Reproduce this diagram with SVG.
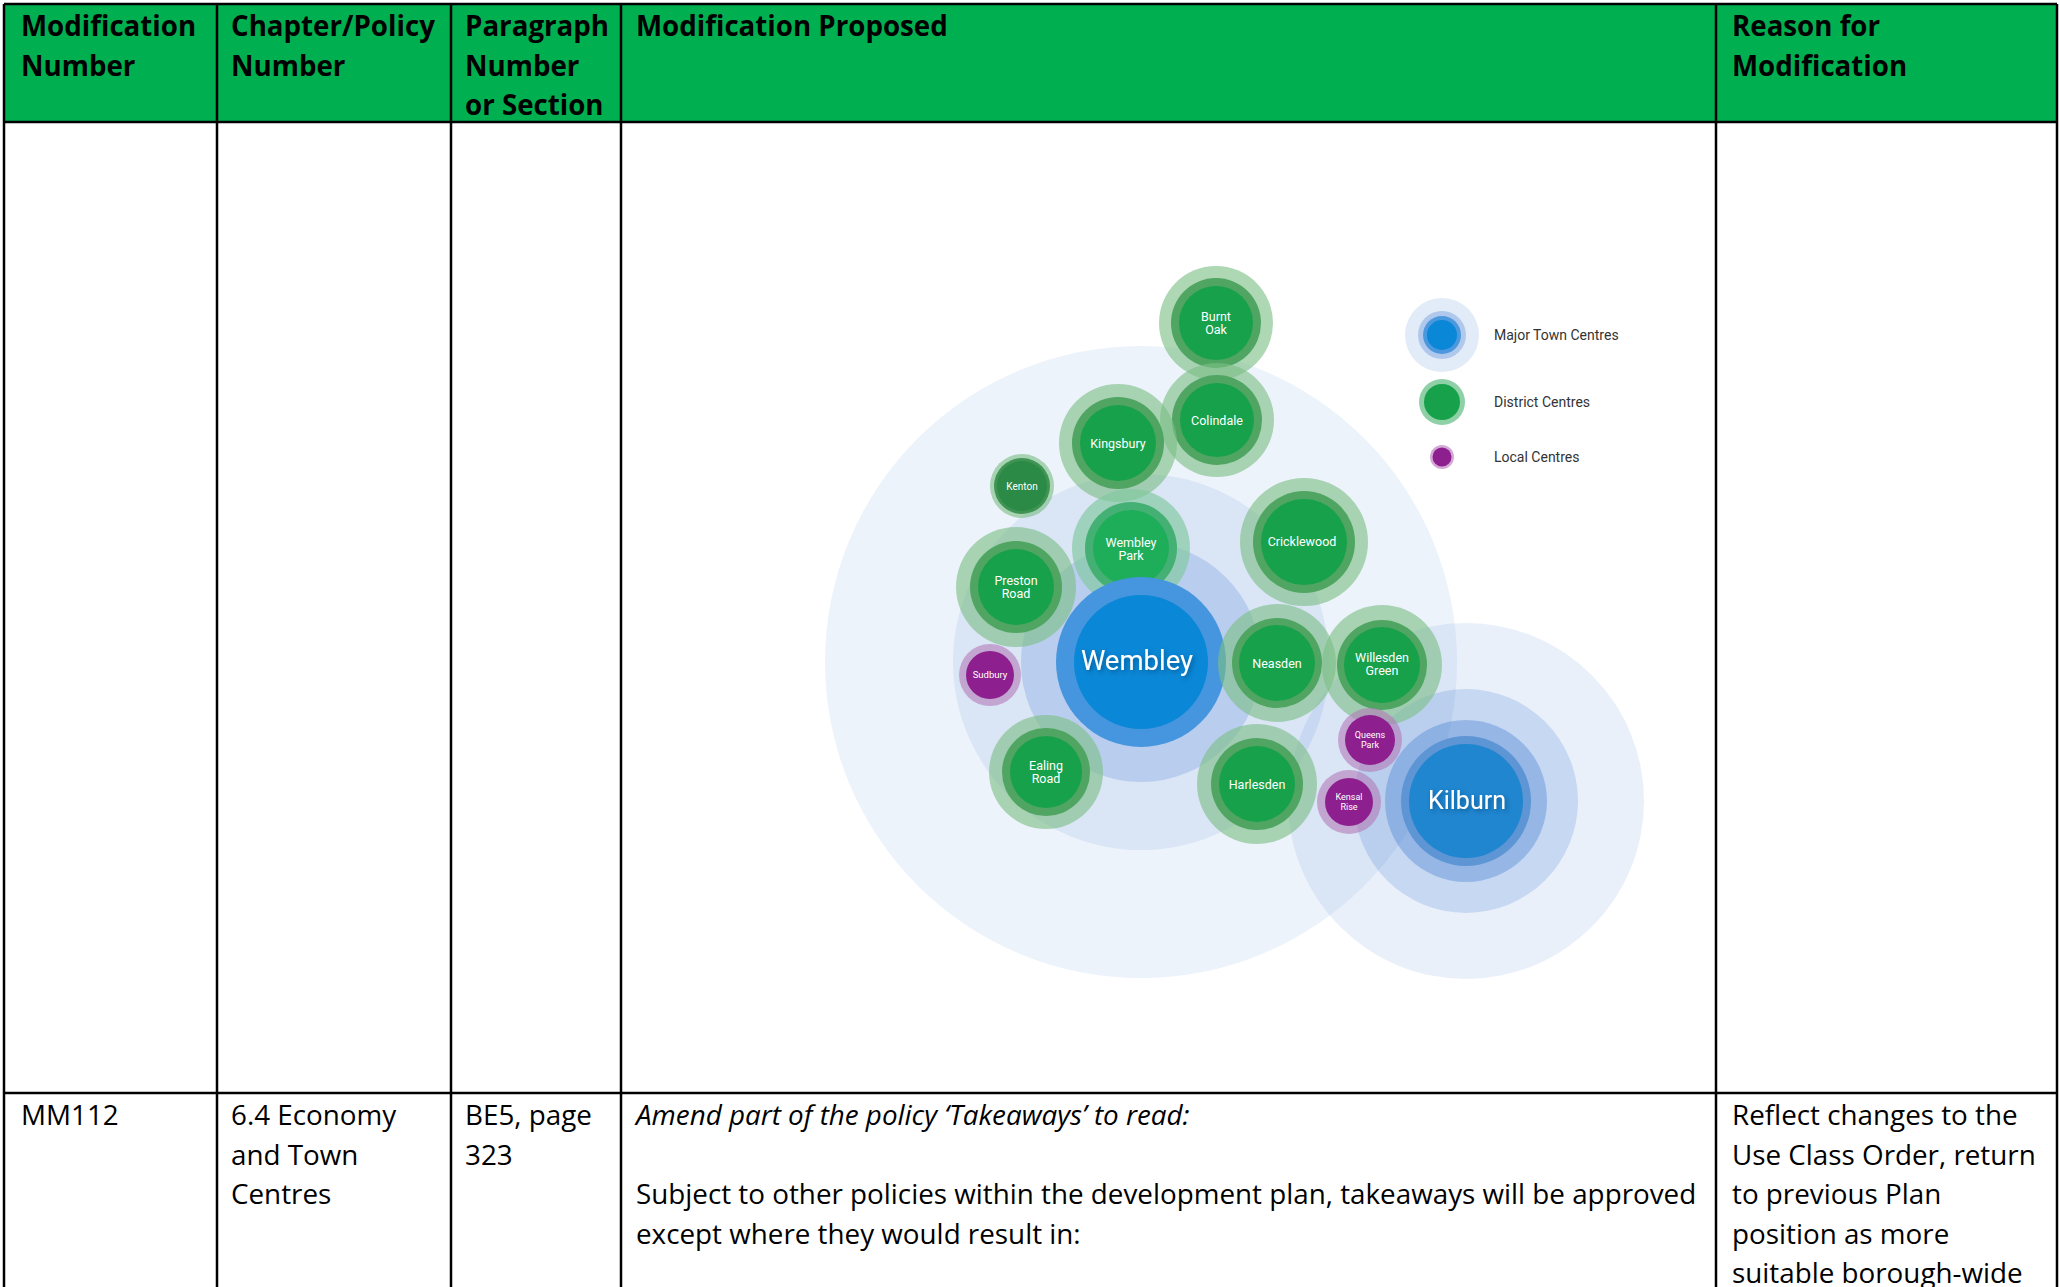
<svg xmlns="http://www.w3.org/2000/svg" width="2060" height="1287" viewBox="0 0 2060 1287">
<defs>
<style>
.hd{font-family:"Open Sans","Noto Sans",sans-serif;font-weight:bold;font-size:27.7px;fill:#000}
.bd{font-family:"Open Sans","Noto Sans",sans-serif;font-size:27.8px;fill:#000}
.it{font-style:italic}
.ln{stroke:#000;stroke-width:2.5;fill:none}
.lab{font-family:Roboto,"Open Sans",sans-serif;fill:#fff;text-anchor:middle}
.leg{font-family:Roboto,"Open Sans",sans-serif;font-size:14px;fill:#333}
.bl{fill:#3c78d2}
.halo{fill:#7dbf86;opacity:0.62}
.ring{fill:#4fa561}
.core{fill:#17a14b}
.phalo{fill:#b27ab8;opacity:0.6}
.pcore{fill:#8e1f8e}
</style>
<filter id="sh" x="-20%" y="-20%" width="140%" height="140%">
<feDropShadow dx="2" dy="2" stdDeviation="2" flood-color="#003060" flood-opacity="0.5"/>
</filter>
</defs>
<rect width="2060" height="1287" fill="#fff"/>
<rect x="4" y="4" width="2053" height="118" fill="#00b050"/>

<g id="table-lines">
<line class="ln" x1="4" y1="4" x2="2057" y2="4"/>
<line class="ln" x1="4" y1="122" x2="2057" y2="122"/>
<line class="ln" x1="4" y1="1093" x2="2057" y2="1093"/>
<line class="ln" x1="4" y1="4" x2="4" y2="1287"/>
<line class="ln" x1="217" y1="4" x2="217" y2="1287"/>
<line class="ln" x1="451" y1="4" x2="451" y2="1287"/>
<line class="ln" x1="621" y1="4" x2="621" y2="1287"/>
<line class="ln" x1="1716" y1="4" x2="1716" y2="1287"/>
<line class="ln" x1="2057" y1="4" x2="2057" y2="1287"/>
</g>

<g id="header">
<text class="hd" x="21" y="36">Modification</text>
<text class="hd" x="21" y="75.5">Number</text>
<text class="hd" x="231" y="36">Chapter/Policy</text>
<text class="hd" x="231" y="75.5">Number</text>
<text class="hd" x="465" y="36">Paragraph</text>
<text class="hd" x="465" y="75.5">Number</text>
<text class="hd" x="465" y="115">or Section</text>
<text class="hd" x="636" y="36">Modification Proposed</text>
<text class="hd" x="1732" y="36">Reason for</text>
<text class="hd" x="1732" y="75.5">Modification</text>
</g>

<g id="row-mm112">
<text class="bd" x="21" y="1125">MM112</text>
<text class="bd" x="231" y="1125">6.4 Economy</text>
<text class="bd" x="231" y="1164.5">and Town</text>
<text class="bd" x="231" y="1204">Centres</text>
<text class="bd" x="465" y="1125">BE5, page</text>
<text class="bd" x="465" y="1164.5">323</text>
<text class="bd it" x="636" y="1125">Amend part of the policy ‘Takeaways’ to read:</text>
<text class="bd" x="636" y="1204">Subject to other policies within the development plan, takeaways will be approved</text>
<text class="bd" x="636" y="1243.5">except where they would result in:</text>
<text class="bd" x="1732" y="1125">Reflect changes to the</text>
<text class="bd" x="1732" y="1164.5">Use Class Order, return</text>
<text class="bd" x="1732" y="1204">to previous Plan</text>
<text class="bd" x="1732" y="1243.5">position as more</text>
<text class="bd" x="1732" y="1283">suitable borough-wide</text>
</g>

<g id="connectors"></g>

<g id="major-wembley">
<circle class="bl" cx="1141" cy="662" r="316" opacity="0.09"/>
<circle class="bl" cx="1141" cy="662" r="188" opacity="0.11"/>
<circle class="bl" cx="1141" cy="662" r="120" opacity="0.21"/>
</g>
<g id="major-kilburn">
<circle class="bl" cx="1466" cy="801" r="178" opacity="0.11"/>
<circle class="bl" cx="1466" cy="801" r="112" opacity="0.2"/>
<circle class="bl" cx="1466" cy="801" r="81" opacity="0.35"/>
<circle cx="1466" cy="801" r="65" fill="#5e95d4"/>
<circle cx="1466" cy="801" r="57" fill="#1f86cf"/>
<text class="lab" x="1467" y="809" font-size="25" filter="url(#sh)">Kilburn</text>
</g>

<g id="district-burnt-oak">
<circle class="halo" cx="1216" cy="323" r="57"/>
<circle class="ring" cx="1216" cy="323" r="45"/>
<circle class="core" cx="1216" cy="323" r="37"/>
<text class="lab" font-size="12.5" x="1216" y="321">Burnt</text>
<text class="lab" font-size="12.5" x="1216" y="334">Oak</text>
</g>
<g id="district-colindale">
<circle class="halo" cx="1217" cy="420" r="57"/>
<circle class="ring" cx="1217" cy="420" r="45"/>
<circle class="core" cx="1217" cy="420" r="37"/>
<text class="lab" font-size="12.5" x="1217" y="425">Colindale</text>
</g>
<g id="district-kingsbury">
<circle class="halo" cx="1118" cy="443" r="59"/>
<circle class="ring" cx="1118" cy="443" r="46"/>
<circle class="core" cx="1118" cy="443" r="38"/>
<text class="lab" font-size="12.5" x="1118" y="448">Kingsbury</text>
</g>
<g id="district-kenton">
<circle class="halo" cx="1022" cy="486" r="32"/>
<circle cx="1022" cy="486" r="28" fill="#3f9454"/>
<circle cx="1022" cy="486" r="25" fill="#2b8a46"/>
<text class="lab" font-size="10" x="1022" y="490">Kenton</text>
</g>
<g id="district-wembley-park">
<circle cx="1131" cy="548" r="59" fill="#7fc79c" opacity="0.65"/>
<circle cx="1131" cy="548" r="46" fill="#45b073"/>
<circle cx="1131" cy="548" r="38" fill="#1ead59"/>
<text class="lab" font-size="12.5" x="1131" y="546.5">Wembley</text>
<text class="lab" font-size="12.5" x="1131" y="559.5">Park</text>
</g>
<g id="district-cricklewood">
<circle class="halo" cx="1304" cy="542" r="64"/>
<circle class="ring" cx="1304" cy="542" r="51"/>
<circle class="core" cx="1304" cy="542" r="43"/>
<text class="lab" font-size="12.5" x="1302" y="546">Cricklewood</text>
</g>
<g id="district-preston-road">
<circle class="halo" cx="1016" cy="587" r="60"/>
<circle class="ring" cx="1016" cy="587" r="46"/>
<circle class="core" cx="1016" cy="587" r="38"/>
<text class="lab" font-size="12.5" x="1016" y="585">Preston</text>
<text class="lab" font-size="12.5" x="1016" y="598">Road</text>
</g>

<g id="major-wembley-core">
<circle cx="1141" cy="662" r="85" fill="#4596de"/>
<circle cx="1141" cy="662" r="67" fill="#0a87d6"/>
<text class="lab" x="1137" y="670" font-size="27.5" filter="url(#sh)">Wembley</text>
</g>

<g id="local-sudbury">
<circle class="phalo" cx="990" cy="675" r="31"/>
<circle class="pcore" cx="990" cy="675" r="24"/>
<text class="lab" font-size="9.5" x="990" y="678">Sudbury</text>
</g>
<g id="district-neasden">
<circle class="halo" cx="1277" cy="663" r="59"/>
<circle class="ring" cx="1277" cy="663" r="45"/>
<circle class="core" cx="1277" cy="663" r="38"/>
<text class="lab" font-size="12.5" x="1277" y="668">Neasden</text>
</g>
<g id="district-willesden-green">
<circle class="halo" cx="1382" cy="665" r="60"/>
<circle class="ring" cx="1382" cy="665" r="45"/>
<circle class="core" cx="1382" cy="665" r="38"/>
<text class="lab" font-size="12.5" x="1382" y="662">Willesden</text>
<text class="lab" font-size="12.5" x="1382" y="675">Green</text>
</g>
<g id="district-ealing-road">
<circle class="halo" cx="1046" cy="772" r="57"/>
<circle class="ring" cx="1046" cy="772" r="44"/>
<circle class="core" cx="1046" cy="772" r="36"/>
<text class="lab" font-size="12.5" x="1046" y="770">Ealing</text>
<text class="lab" font-size="12.5" x="1046" y="783">Road</text>
</g>
<g id="district-harlesden">
<circle class="halo" cx="1257" cy="784" r="60"/>
<circle class="ring" cx="1257" cy="784" r="46"/>
<circle class="core" cx="1257" cy="784" r="38"/>
<text class="lab" font-size="12.5" x="1257" y="788.5">Harlesden</text>
</g>
<g id="local-queens-park">
<circle class="phalo" cx="1370" cy="740" r="32"/>
<circle class="pcore" cx="1370" cy="740" r="25"/>
<text class="lab" font-size="9" x="1370" y="738">Queens</text>
<text class="lab" font-size="9" x="1370" y="748">Park</text>
</g>
<g id="local-kensal-rise">
<circle class="phalo" cx="1349" cy="802" r="32"/>
<circle class="pcore" cx="1349" cy="802" r="24"/>
<text class="lab" font-size="9" x="1349" y="800">Kensal</text>
<text class="lab" font-size="9" x="1349" y="810">Rise</text>
</g>

<g id="legend">
<circle class="bl" cx="1442" cy="335" r="37" opacity="0.15"/>
<circle class="bl" cx="1442" cy="335" r="24" opacity="0.3"/>
<circle cx="1442" cy="335" r="19" fill="#4b98de"/>
<circle cx="1442" cy="335" r="15" fill="#0a87d6"/>
<text class="leg" x="1494" y="340">Major Town Centres</text>
<circle cx="1442" cy="402" r="23" fill="#8fd0a6"/>
<circle cx="1442" cy="402" r="18" fill="#17a14b"/>
<text class="leg" x="1494" y="407">District Centres</text>
<circle cx="1442" cy="457" r="12" fill="#d3a9d6"/>
<circle cx="1442" cy="457" r="9.5" fill="#8e1f8e"/>
<text class="leg" x="1494" y="462">Local Centres</text>
</g>
</svg>
